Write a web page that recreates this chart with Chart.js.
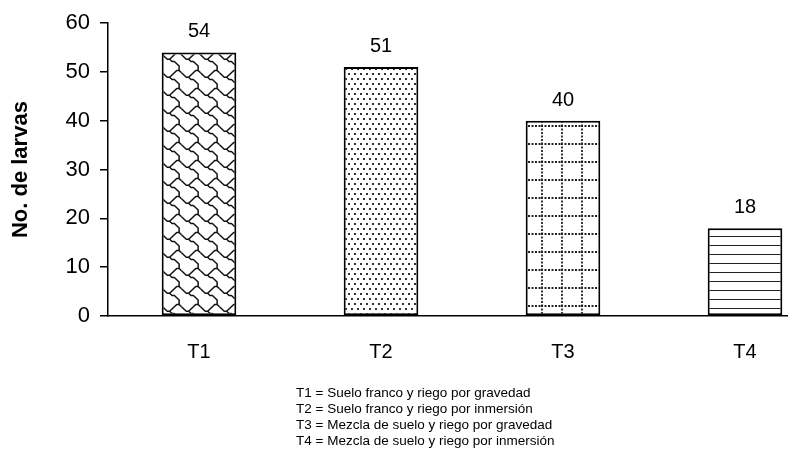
<!DOCTYPE html>
<html>
<head>
<meta charset="utf-8">
<script src="https://cdn.jsdelivr.net/npm/chart.js@4.4.1/dist/chart.umd.min.js"></script>
<style>
  html, body { margin: 0; padding: 0; background: #fff; overflow: hidden; }
  #wrap { position: relative; width: 840px; height: 459px; }
</style>
</head>
<body>
<div id="wrap"><canvas id="c" width="840" height="459"></canvas></div>
<script>
// Treatments and number of larvae counted in each
const categories = ['T1', 'T2', 'T3', 'T4'];
const larvae = [54, 51, 40, 18];
const yMin = 0;
const yMax = 60;
const yStep = 10;
const yTitle = 'No. de larvas';
const notes = [
  'T1 = Suelo franco y riego por gravedad',
  'T2 = Suelo franco y riego por inmersión',
  'T3 = Mezcla de suelo y riego por gravedad',
  'T4 = Mezcla de suelo y riego por inmersión'
];

const FONT = '"Liberation Sans", Arial, Helvetica, sans-serif';
const ctx = document.getElementById('c').getContext('2d');

function tile(w, h, draw) {
  const c = document.createElement('canvas');
  c.width = w; c.height = h;
  const g = c.getContext('2d');
  g.fillStyle = '#fff';
  g.fillRect(0, 0, w, h);
  draw(g, w, h);
  return ctx.createPattern(c, 'repeat');
}

// Shingle fill
const shingle = tile(19, 18, (g, w, h) => {
  const sx = w / 8, sy = h / 8;
  const vee = [[0,1],[1,2],[2,3],[3,3],[4,2],[5,1],[6,0],[7,0],[8,1]];
  const tail = [[3,3],[4,4],[5,4],[6,5],[7,6],[7,8]];
  g.strokeStyle = '#111';
  g.lineWidth = 1.5;
  g.lineJoin = 'round';
  for (const dx of [-w, 0, w]) {
    for (const dy of [-h, 0, h]) {
      for (const pts of [vee, tail]) {
        g.beginPath();
        pts.forEach(([x, y], i) => {
          const px = x * sx + dx + 0.5, py = y * sy + dy + 0.5;
          i ? g.lineTo(px, py) : g.moveTo(px, py);
        });
        g.stroke();
      }
    }
  }
});

// Staggered dots
const dots = tile(12, 10, (g) => {
  g.fillStyle = '#333';
  g.fillRect(1, 1, 2, 2);
  g.fillRect(7, 1, 2, 2);
  g.fillRect(4, 6, 2, 2);
  g.fillRect(10, 6, 2, 2);
});

// Dotted grid
const dottedGrid = tile(20, 18, (g, w, h) => {
  g.strokeStyle = '#222';
  g.lineWidth = 1.8;
  g.setLineDash([2, 1.5]);
  g.beginPath(); g.moveTo(1, 0); g.lineTo(1, h); g.stroke();
  g.beginPath(); g.moveTo(0, 1); g.lineTo(w, 1); g.stroke();
});

// Horizontal lines
const hLines = tile(4, 9, (g, w) => {
  g.fillStyle = '#222';
  g.fillRect(0, 8, w, 1.4);
});

const fills = [shingle, dots, dottedGrid, hLines];
const fillOffsets = [[0, 0], [0, 0], [15, 4], [0, 0]];

// Anchor each fill to the top-left corner of its bar
const anchorFills = {
  id: 'anchorFills',
  beforeDatasetsDraw(chart) {
    const meta = chart.getDatasetMeta(0);
    meta.data.forEach((bar, i) => {
      const left = bar.x - bar.width / 2;
      const [ox, oy] = fillOffsets[i];
      fills[i].setTransform(new DOMMatrix().translate(Math.round(left) + ox, Math.round(bar.y) + oy));
    });
  }
};

// Value above each bar
const valueLabels = {
  id: 'valueLabels',
  afterDatasetsDraw(chart) {
    const g = chart.ctx;
    const meta = chart.getDatasetMeta(0);
    g.save();
    g.fillStyle = '#000';
    g.font = '20px ' + FONT;
    g.textAlign = 'center';
    g.textBaseline = 'alphabetic';
    meta.data.forEach((bar, i) => {
      g.fillText(String(larvae[i]), bar.x, bar.y - 15);
    });
    g.restore();
  }
};

// Treatment key under the chart
const treatmentKey = {
  id: 'treatmentKey',
  afterDraw(chart) {
    const g = chart.ctx;
    g.save();
    g.fillStyle = '#000';
    g.font = '13.5px ' + FONT;
    g.textAlign = 'left';
    g.textBaseline = 'alphabetic';
    notes.forEach((t, i) => g.fillText(t, 296, 397 + i * 16));
    g.restore();
  }
};

new Chart(ctx, {
  type: 'bar',
  data: {
    labels: categories,
    datasets: [{
      data: larvae,
      backgroundColor: fills,
      borderColor: '#000',
      borderWidth: 2,
      borderSkipped: false,
      categoryPercentage: 1,
      barPercentage: 0.41
    }]
  },
  options: {
    responsive: false,
    animation: false,
    layout: { padding: { top: 23, left: 0, right: 4, bottom: 0 } },
    plugins: { legend: { display: false }, tooltip: { enabled: false } },
    scales: {
      x: {
        afterFit(scale) { scale.height = 143; },
        grid: { display: true, drawOnChartArea: false, drawTicks: false },
        border: { display: true, color: '#000', width: 1.5 },
        ticks: { color: '#000', font: { family: FONT, size: 20 }, padding: 24 }
      },
      y: {
        min: yMin,
        max: yMax,
        afterFit(scale) { scale.width = 108; },
        grid: { display: true, drawOnChartArea: false, drawTicks: true, tickLength: 8, color: '#000', lineWidth: 1.5 },
        border: { display: true, color: '#000', width: 1.5 },
        ticks: { stepSize: yStep, color: '#000', font: { family: FONT, size: 22 }, padding: 10 },
        title: {
          display: true,
          text: yTitle,
          color: '#000',
          font: { family: FONT, size: 22, weight: 'bold' },
          padding: { top: 8, bottom: 0 }
        }
      }
    }
  },
  plugins: [anchorFills, valueLabels, treatmentKey]
});
</script>
</body>
</html>
